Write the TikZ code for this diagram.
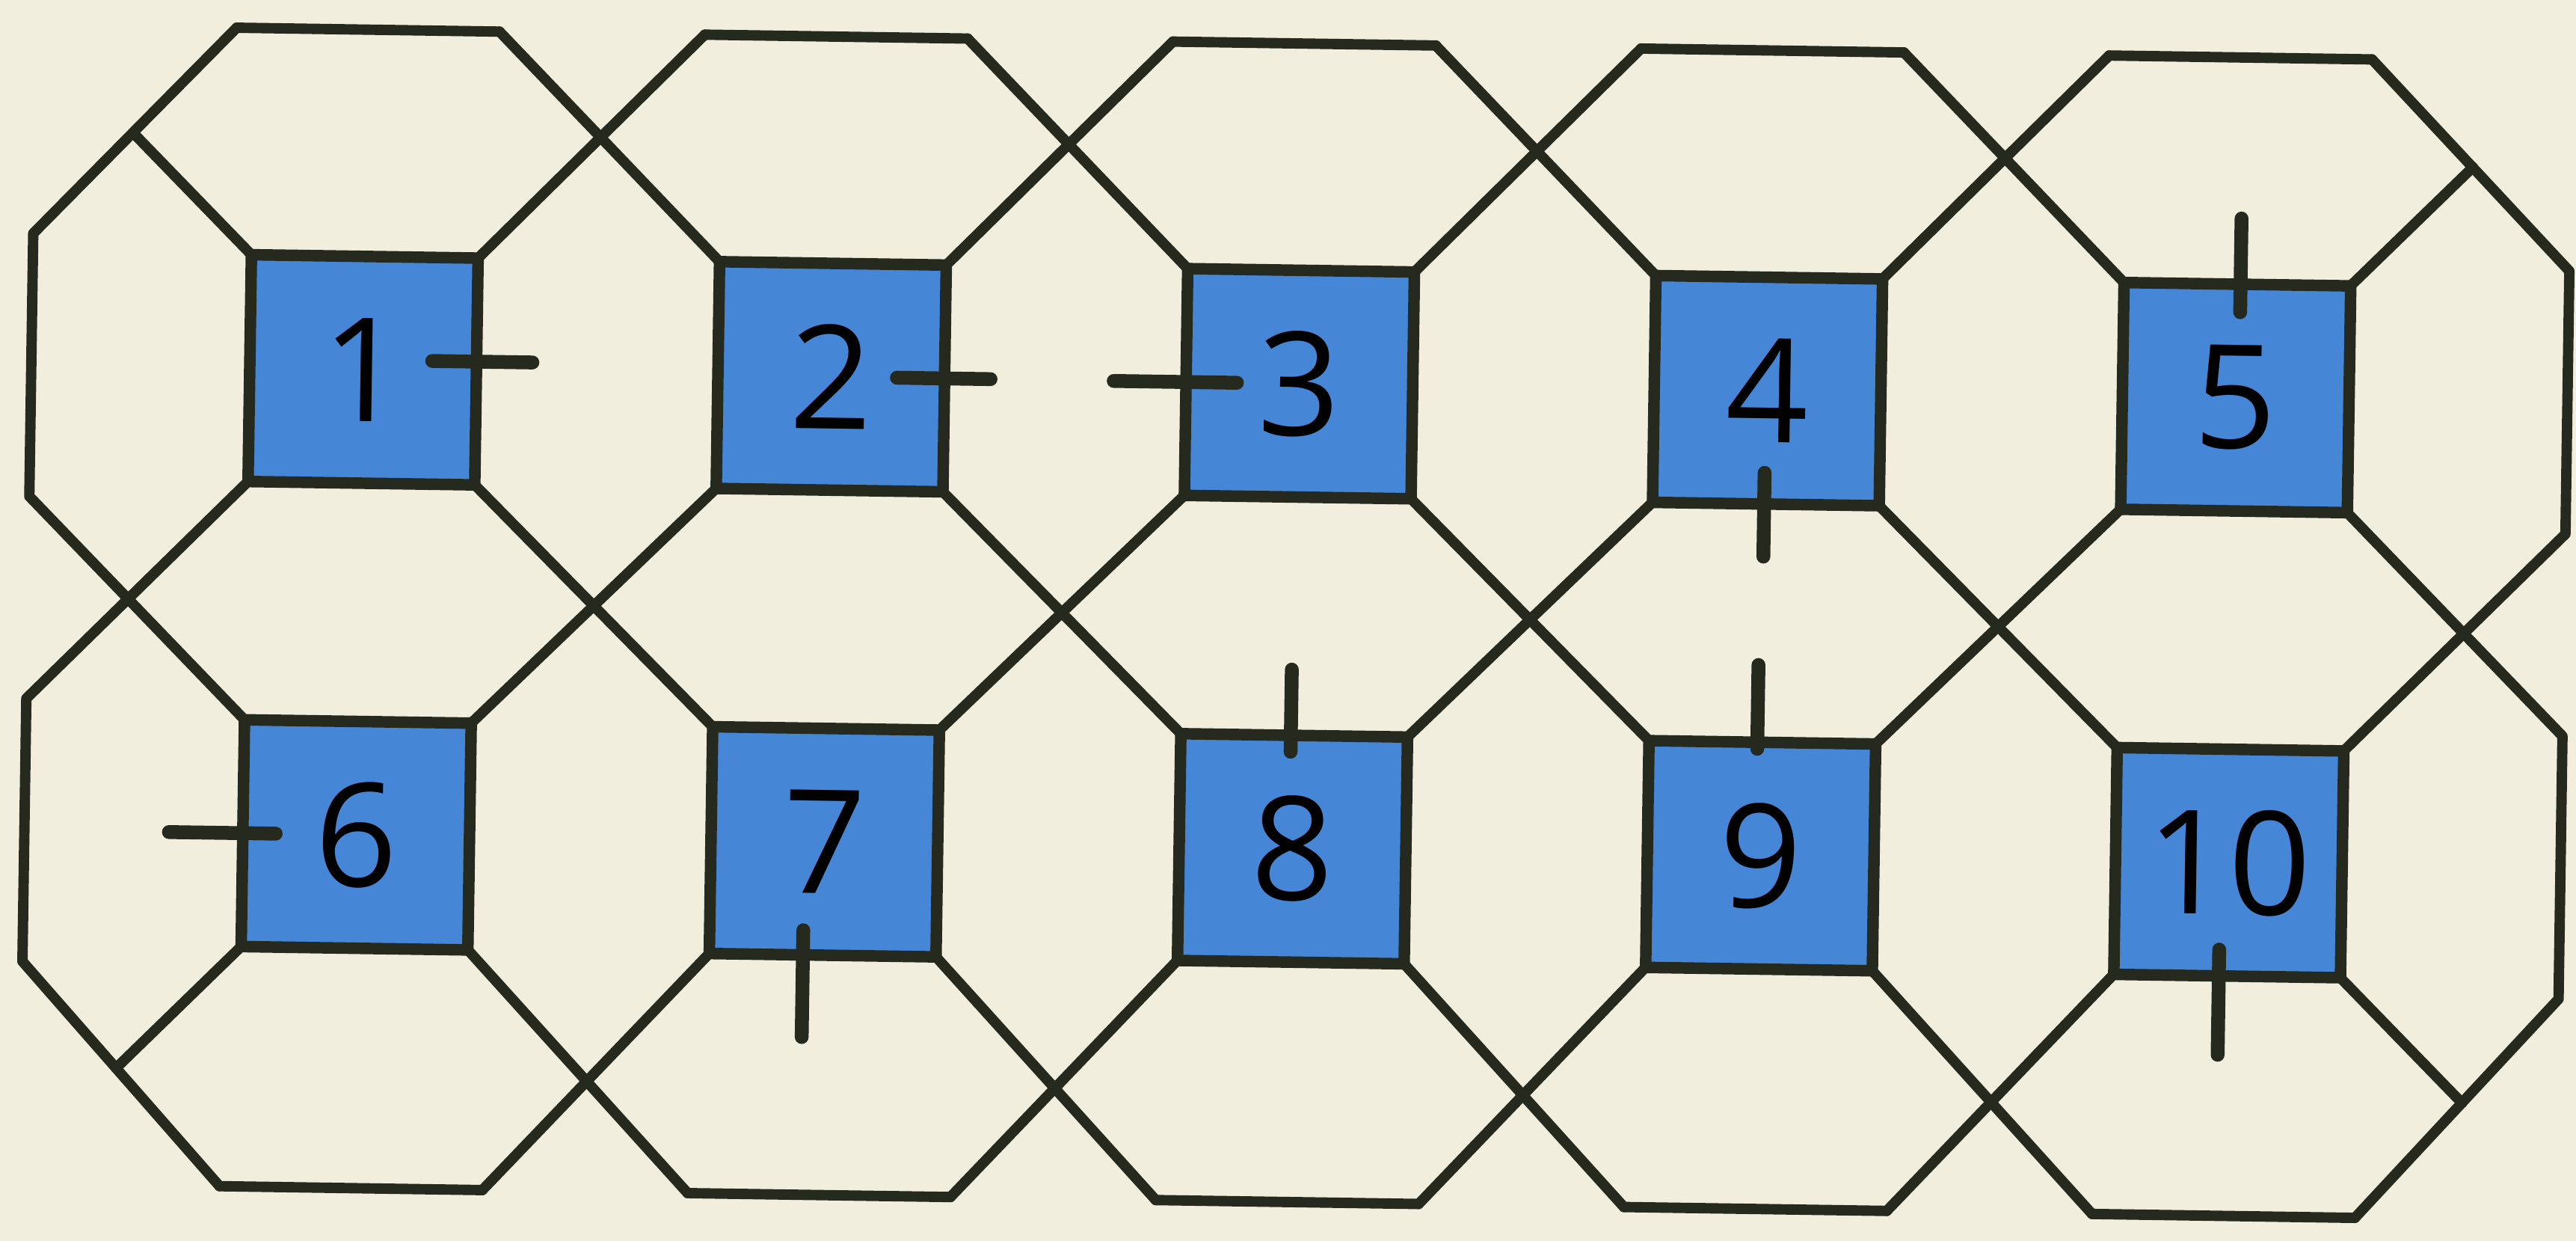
\documentclass[tikz,border=0pt]{standalone}
\usepackage{fontspec}
\setsansfont{Open Sans}
\usetikzlibrary{calc}
\definecolor{paper}{RGB}{241,238,222}
\definecolor{ink}{RGB}{38,42,30}
\definecolor{tileblue}{RGB}{70,134,215}
\tikzset{
    tile/.style={draw=ink,fill=tileblue,line width=2pt,minimum size=1.38cm,inner sep=0pt,outer sep=0pt,
        font=\sffamily\fontsize{25}{30}\selectfont},
    edge/.style={draw=ink,line width=1.8pt,line cap=round,line join=round},
    tick/.style={draw=ink,line width=2.4pt,line cap=round}
}
\begin{document}
\begin{tikzpicture}
    \fill[paper] (0,0) rectangle (15.68,-7.55);
    \useasboundingbox (0,0) rectangle (15.68,-7.55);
    \begin{scope}[shift={(2.21,-2.25)},rotate=-0.85,transform shape]
        \pgfmathsetmacro{\pitch}{2.85}
        \pgfmathsetmacro{\drop}{2.83}
        \pgfmathsetmacro{\apo}{2.02}
        \pgfmathsetmacro{\rise}{2.07}
        \pgfmathsetmacro{\sink}{2.15}
        \pgfmathsetmacro{\half}{0.8}
        % Blue squares
        \foreach \i in {1,...,5}{
            \pgfmathtruncatemacro{\j}{\i+5}
            \node[tile] (sq\i) at ({(\i-1)*\pitch},0) {\i};
            \node[tile] (sq\j) at ({(\i-1)*\pitch},-\drop) {\j};
        }
        % Outer corners of the octagons
        \foreach \i in {1,...,5}{
            \pgfmathtruncatemacro{\j}{\i+5}
            \coordinate (tl\i) at ({(\i-1)*\pitch-\half},\rise);
            \coordinate (tr\i) at ({(\i-1)*\pitch+\half},\rise);
            \coordinate (bl\j) at ({(\i-1)*\pitch-\half},{-\drop-\sink});
            \coordinate (br\j) at ({(\i-1)*\pitch+\half},{-\drop-\sink});
        }
        \coordinate (la1) at (-\apo,\half);
        \coordinate (lb1) at (-\apo,-\half);
        \coordinate (la6) at (-\apo,{-\drop+\half});
        \coordinate (lb6) at (-\apo,{-\drop-\half});
        \coordinate (ra5) at ({4*\pitch+\apo},\half);
        \coordinate (rb5) at ({4*\pitch+\apo},-\half);
        \coordinate (ra10) at ({4*\pitch+\apo},{-\drop+\half});
        \coordinate (rb10) at ({4*\pitch+\apo},{-\drop-\half});
        % Top and bottom rims
        \foreach \i in {1,...,5}{
            \pgfmathtruncatemacro{\j}{\i+5}
            \draw[edge] (tl\i) -- (tr\i);
            \draw[edge] (bl\j) -- (br\j);
        }
        % Diagonals between neighbouring squares
        \foreach \i in {1,...,4}{
            \pgfmathtruncatemacro{\k}{\i+1}
            \pgfmathtruncatemacro{\j}{\i+5}
            \pgfmathtruncatemacro{\m}{\i+6}
            \draw[edge] (tr\i) -- (sq\k.north west);
            \draw[edge] (sq\i.north east) -- (tl\k);
            \draw[edge] (sq\i.south east) -- (sq\m.north west);
            \draw[edge] (sq\k.south west) -- (sq\j.north east);
            \draw[edge] (br\j) -- (sq\m.south west);
            \draw[edge] (sq\j.south east) -- (bl\m);
        }
        % Left and right ends
        \draw[edge] (tl1) -- (la1) -- (lb1) -- (sq6.north west);
        \draw[edge] (bl6) -- (lb6) -- (la6) -- (sq1.south west);
        \draw[edge] (tr5) -- (ra5) -- (rb5) -- (sq10.north east);
        \draw[edge] (br10) -- (rb10) -- (ra10) -- (sq5.south east);
        % Short corner stubs
        \coordinate (c1) at (sq1.north west);
        \coordinate (c6) at (sq6.south west);
        \coordinate (c5) at (sq5.north east);
        \coordinate (c10) at (sq10.south east);
        \coordinate (h1) at ($(c1)+(-1,1)$);
        \coordinate (h6) at ($(c6)+(-1,-1)$);
        \coordinate (h5) at ($(c5)+(1,1)$);
        \coordinate (h10) at ($(c10)+(1,-1)$);
        \draw[edge] (c1) -- (intersection of c1--h1 and tl1--la1);
        \draw[edge] (c6) -- (intersection of c6--h6 and bl6--lb6);
        \draw[edge] (c5) -- (intersection of c5--h5 and tr5--ra5);
        \draw[edge] (c10) -- (intersection of c10--h10 and br10--rb10);
        % Tick marks
        \draw[tick] ([xshift=-0.27cm,yshift=0.06cm]sq1.east) -- ++(0.61,0);
        \draw[tick] ([xshift=-0.29cm]sq2.east) -- ++(0.57,0);
        \draw[tick] ([xshift=-0.44cm]sq3.west) -- ++(0.75,0);
        \draw[tick] ([xshift=-0.01cm,yshift=0.19cm]sq4.south) -- ++(0,-0.51);
        \draw[tick] ([xshift=0.02cm,yshift=-0.17cm]sq5.north) -- ++(0,0.57);
        \draw[tick] ([xshift=-0.45cm]sq6.west) -- ++(0.65,0);
        \draw[tick] ([xshift=-0.12cm,yshift=0.15cm]sq7.south) -- ++(0,-0.65);
        \draw[tick] ([xshift=-0.02cm,yshift=-0.10cm]sq8.north) -- ++(0,0.5);
        \draw[tick] ([xshift=-0.03cm,yshift=-0.04cm]sq9.north) -- ++(0,0.51);
        \draw[tick] ([xshift=-0.05cm,yshift=0.16cm]sq10.south) -- ++(0,-0.64);
    \end{scope}
\end{tikzpicture}
\end{document}
